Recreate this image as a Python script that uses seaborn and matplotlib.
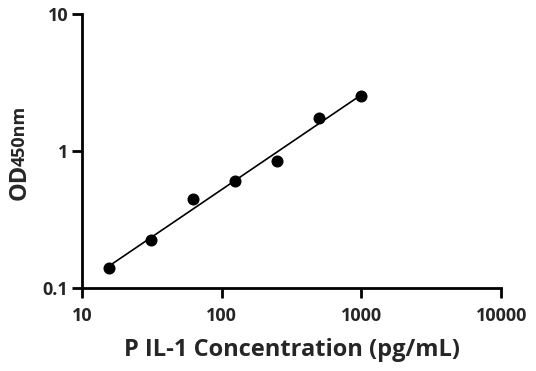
import numpy as np
import pandas as pd
import matplotlib
matplotlib.use("Agg")
import matplotlib.pyplot as plt
import seaborn as sns

# standard curve data
conc = [15.625, 31.25, 62.5, 125, 250, 500, 1000]
od = [0.14, 0.223, 0.447, 0.604, 0.845, 1.75, 2.53]

x_ticks = [10, 100, 1000, 10000]
x_labels = ["10", "100", "1000", "10000"]
y_ticks = [0.1, 1, 10]
y_labels = ["0.1", "1", "10"]

sns.set_style("ticks")
plt.rcParams["font.family"] = ["Open Sans", "DejaVu Sans"]
plt.rcParams["font.weight"] = "bold"

df = pd.DataFrame({"conc": conc, "od": od})

# log-log linear fit for the curve
slope, icpt = np.polyfit(np.log10(df["conc"]), np.log10(df["od"]), 1)
fit_x = np.logspace(np.log10(min(conc)), np.log10(max(conc)), 50)
fit = pd.DataFrame({"conc": fit_x, "od": 10 ** (icpt + slope * np.log10(fit_x))})

fig = plt.figure(figsize=(5.36, 3.71), dpi=100)
ax = fig.add_axes([0.153, 0.224, 0.782, 0.738])

sns.lineplot(data=fit, x="conc", y="od", ax=ax, color="black", linewidth=1.2)
sns.scatterplot(data=df, x="conc", y="od", ax=ax, color="black", s=75,
                edgecolor="black", linewidth=0, zorder=3)

ax.set_xscale("log")
ax.set_yscale("log")
ax.set_xlim(10, 10000)
ax.set_ylim(0.1, 10)
ax.set_xticks(x_ticks)
ax.set_xticklabels(x_labels)
ax.set_yticks(y_ticks)
ax.set_yticklabels(y_labels)
ax.minorticks_off()
ax.tick_params(axis="both", length=7, width=2, labelsize=13, color="black")
ax.tick_params(axis="x", pad=7)
ax.tick_params(axis="y", pad=3)
for lab in ax.get_xticklabels() + ax.get_yticklabels():
    lab.set_fontweight("bold")

sns.despine(ax=ax)
for s in ["left", "bottom"]:
    ax.spines[s].set_linewidth(2)
    ax.spines[s].set_color("black")

ax.set_xlabel("P IL-1 Concentration (pg/mL)", fontsize=17, fontweight="bold", labelpad=9)
ax.set_ylabel("")

# y label: "OD" with smaller "450nm" on the same baseline
t1 = fig.text(0.047, 0.46, "OD", rotation=90, fontsize=17, fontweight="bold",
              ha="left", va="baseline", rotation_mode="anchor")
fig.canvas.draw()
bb = t1.get_window_extent().transformed(fig.transFigure.inverted())
fig.text(0.047, bb.y1 - 0.004, "450nm", rotation=90, fontsize=13, fontweight="bold",
         ha="left", va="baseline", rotation_mode="anchor")

fig.savefig("out.png", dpi=100)
